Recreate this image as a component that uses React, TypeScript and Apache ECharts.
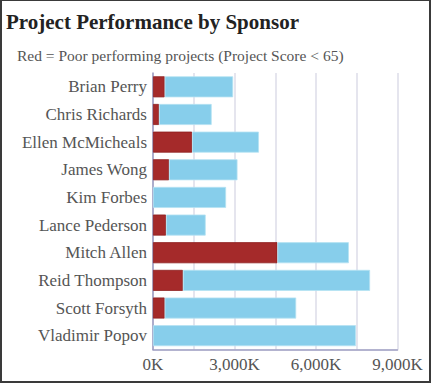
import React, { useEffect, useRef } from "react";
import * as echarts from "echarts";

const sponsors = [
  "Brian Perry",
  "Chris Richards",
  "Ellen McMicheals",
  "James Wong",
  "Kim Forbes",
  "Lance Pederson",
  "Mitch Allen",
  "Reid Thompson",
  "Scott Forsyth",
  "Vladimir Popov",
];
// values in K
const poorValues = [430, 220, 1440, 590, 0, 480, 4580, 1100, 430, 0];
const totalValues = [2950, 2160, 3900, 3110, 2690, 1940, 7210, 7990, 5270, 7470];
const otherValues = totalValues.map((t, i) => t - poorValues[i]);

const FONT = "'Liberation Serif', 'Times New Roman', serif";

export default function App() {
  const ref = useRef<HTMLDivElement>(null);
  useEffect(() => {
    if (!ref.current) return;
    const chart = echarts.init(ref.current, undefined, { renderer: "svg" });
    chart.setOption({
      animation: false,
      backgroundColor: "#ffffff",
      title: [
        {
          text: "Project Performance by Sponsor",
          left: 1,
          top: 6,
          textStyle: { fontFamily: FONT, fontSize: 21, fontWeight: "bold", color: "#222" },
        },
        {
          text: "Red = Poor performing projects (Project Score < 65)",
          left: 12,
          top: 42,
          textStyle: { fontFamily: FONT, fontSize: 15.5, fontWeight: "normal", color: "#555" },
        },
      ],
      grid: { left: 153, top: 73, width: 244.5, height: 276.5, containLabel: false },
      xAxis: {
        type: "value",
        min: 0,
        max: 9000,
        interval: 1500,
        axisLine: { show: true, lineStyle: { color: "#9a9ac0", width: 1.5 } },
        axisTick: { show: false },
        splitLine: { show: true, lineStyle: { color: "#dcdce8", width: 1.5 } },
        axisLabel: {
          fontFamily: FONT,
          fontSize: 17,
          color: "#555",
          margin: 6,
          formatter: (v: number) =>
            v % 3000 === 0 ? `${v.toLocaleString("en-US")}K` : "",
        },
      },
      yAxis: {
        type: "category",
        data: sponsors,
        inverse: true,
        axisLine: { show: true, lineStyle: { color: "#9a9ac0", width: 1.5 } },
        axisTick: { show: false },
        axisLabel: { fontFamily: FONT, fontSize: 17, color: "#555", margin: 6 },
      },
      series: [
        {
          type: "bar",
          name: "Poor",
          stack: "total",
          data: poorValues.map((v) => (v > 0 ? v : null)),
          barCategoryGap: "24%",
          itemStyle: { color: "#a52a2a", borderColor: "#8e1f1f", borderWidth: 0.8 },
        },
        {
          type: "bar",
          name: "Other",
          stack: "total",
          data: otherValues,
          barCategoryGap: "24%",
          itemStyle: { color: "#87ceeb", borderColor: "#b5e2f3", borderWidth: 0.8 },
        },
      ],
    });
    return () => chart.dispose();
  }, []);
  return (
    <div
      style={{
        position: "fixed",
        left: 0,
        top: 0,
        width: 431,
        height: 383,
        boxSizing: "border-box",
        border: "2px solid #3a3a3a",
        borderTopWidth: 1,
        background: "#fff",
        overflow: "hidden",
      }}
    >
      <div ref={ref} style={{ position: "absolute", left: -2, top: -1, width: 432, height: 383 }} />
    </div>
  );
}
